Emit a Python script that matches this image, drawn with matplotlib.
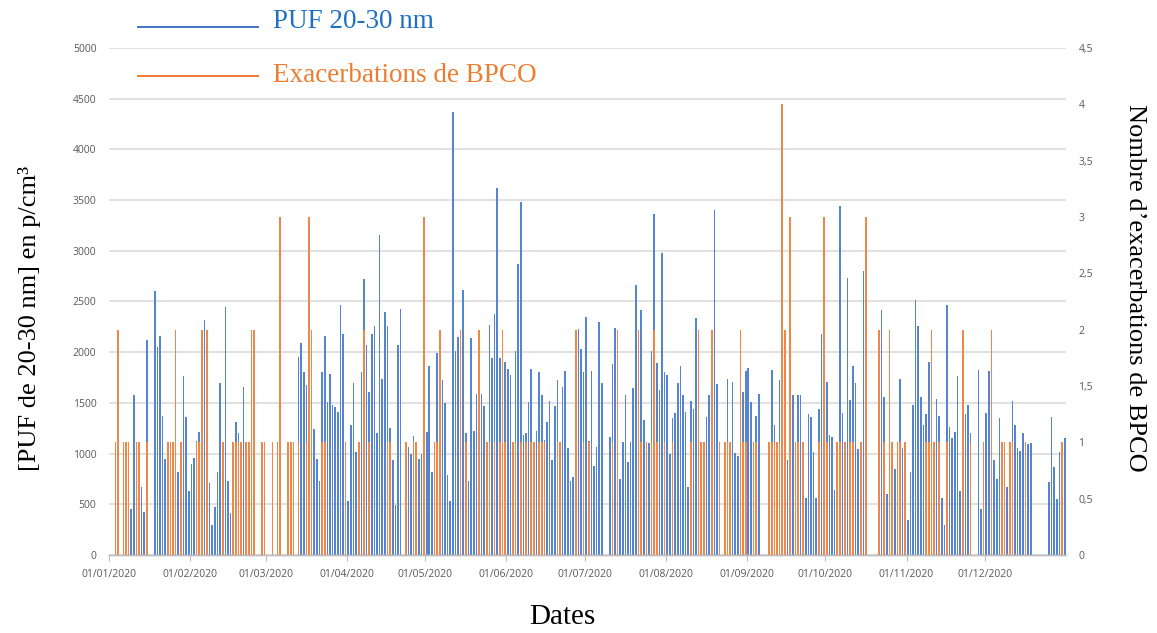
import matplotlib
matplotlib.use('Agg')
import matplotlib.pyplot as plt
from matplotlib.lines import Line2D
import numpy as np

# month ticks (day index of the 1st of each month, 2020 is a leap year)
month_starts = [0, 31, 60, 91, 121, 152, 182, 213, 244, 274, 305, 335]
month_labels = ['01/01/2020', '01/02/2020', '01/03/2020', '01/04/2020',
                '01/05/2020', '01/06/2020', '01/07/2020', '01/08/2020',
                '01/09/2020', '01/10/2020', '01/11/2020', '01/12/2020']

# PUF 20-30 nm (p/cm3), one value per day (0 = no / hidden bar)
puf = [
    # janvier
    0, 0, 0, 0, 0, 0, 0, 0, 450, 1576, 0, 0, 668, 428, 2122, 0, 0, 2602, 2056, 2161, 1375, 947, 0, 0, 0, 0, 816, 0, 1767, 1362, 632,
    # fevrier
    895, 960, 1125, 1217, 0, 2313, 0, 707, 296, 477, 816, 1694, 0, 2444, 734, 411, 0, 1309, 1200, 0, 1655, 0, 0, 0, 0, 0, 0, 0, 0,
    # mars
    0, 0, 0, 0, 0, 0, 0, 0, 0, 0, 0, 0, 1948, 2089, 1800, 1678, 0, 0, 1240, 947, 734, 1800, 2161, 1507, 1786, 1484, 1464, 1415, 2468, 2178, 0,
    # avril
    536, 1283, 1694, 1013, 0, 1800, 2721, 2069, 1612, 2178, 2254, 1200, 3152, 1734, 2392, 2254, 1250, 938, 494, 2069, 2428, 0, 0, 1069, 993, 1174, 1100, 947, 993, 0,
    # mai
    1217, 1859, 816, 0, 1990, 0, 1724, 1497, 790, 536, 4366, 2013, 2148, 0, 2615, 1200, 734, 2138, 1227, 1589, 0, 1589, 1470, 0, 2270, 1938, 2379, 3616, 1938, 0, 1908,
    # juin
    1832, 1776, 1109, 2013, 2872, 3484, 1184, 1200, 1507, 1832, 0, 1227, 1800, 1576, 1135, 1309, 1523, 938, 1470, 1721, 0, 1661, 1816, 1053, 734, 773, 0, 2231, 2033, 1800,
    # juillet
    2352, 1125, 1816, 882, 1069, 2296, 1694, 0, 0, 1168, 1882, 2234, 0, 750, 1112, 1579, 921, 1112, 1645, 2658, 0, 2418, 1332, 0, 1109, 2013, 3365, 1892, 1628, 2977, 1800,
    # aout
    1776, 993, 1349, 1405, 1694, 1865, 1576, 1411, 668, 1523, 1441, 2336, 0, 0, 1050, 1365, 1576, 0, 3405, 1684, 0, 0, 0, 1737, 0, 1708, 1003, 977, 0, 1605, 1816,
    # septembre
    1842, 1507, 0, 1375, 1589, 0, 0, 0, 0, 1826, 1283, 0, 1721, 0, 0, 938, 0, 1576, 0, 1576, 1576, 0, 559, 1392, 1359, 1013, 559, 1441, 2178, 0,
    # octobre
    1708, 1184, 1161, 641, 0, 3441, 1405, 0, 2734, 1533, 1865, 1694, 1043, 1109, 2803, 0, 0, 0, 0, 0, 0, 2418, 1563, 602, 0, 0, 846, 0, 1734, 1053, 0,
    # novembre
    345, 816, 1481, 2510, 2254, 1563, 1283, 1392, 1908, 0, 0, 1536, 1375, 566, 296, 2468, 1267, 1151, 1217, 1767, 632, 0, 1392, 1481, 1200, 0, 0, 1826, 450, 0,
    # decembre
    1398, 1816, 0, 938, 750, 1349, 0, 0, 668, 0, 1523, 1283, 1053, 1030, 1200, 0, 1092, 1109, 0, 0, 0, 0, 0, 0, 724, 1365, 872, 549, 1020, 1109, 1151,
]

# nombre d'exacerbations de BPCO par jour
bpco = [
    0, 0, 1, 2, 0, 1, 1, 1, 0, 0, 1, 1, 0, 0, 1, 0, 0, 0, 0, 0, 0, 0, 1, 1, 1, 2, 0, 1, 0, 0, 0,
    0, 0, 1, 1, 2, 0, 2, 0, 0, 0, 0, 0, 1, 0, 0, 0, 1, 1, 1, 1, 0, 1, 1, 2, 2, 0, 0, 1, 1,
    0, 0, 1, 0, 1, 3, 0, 0, 1, 1, 1, 0, 1, 0, 0, 1, 3, 2, 0, 0, 0, 1, 1, 0, 0, 0, 0, 0, 0, 0, 1,
    0, 0, 0, 0, 1, 0, 2, 0, 1, 0, 0, 0, 0, 0, 0, 1, 1, 0, 0, 0, 0, 0, 1, 0, 0, 1, 1, 0, 0, 3,
    0, 0, 0, 1, 1, 2, 0, 0, 0, 0, 0, 0, 0, 2, 0, 1, 0, 0, 0, 0, 2, 0, 0, 1, 1, 0, 1, 0, 1, 2, 1,
    0, 0, 1, 1, 0, 1, 0, 1, 0, 1, 1, 0, 1, 1, 1, 0, 0, 0, 0, 1, 1, 0, 0, 0, 0, 0, 2, 0, 0, 1,
    0, 1, 0, 0, 0, 0, 0, 0, 0, 0, 1, 0, 2, 0, 0, 0, 0, 0, 0, 0, 2, 1, 0, 1, 0, 1, 2, 1, 0, 0, 1,
    0, 0, 1, 0, 0, 0, 0, 0, 0, 1, 0, 0, 2, 1, 1, 0, 0, 2, 0, 0, 1, 0, 1, 1, 1, 0, 0, 0, 2, 1, 1,
    0, 0, 1, 1, 0, 0, 0, 0, 1, 1, 1, 1, 1, 4, 2, 0, 3, 0, 1, 1, 0, 1, 0, 0, 0, 0, 0, 1, 0, 3,
    1, 0, 0, 0, 1, 1, 0, 1, 0, 1, 1, 0, 0, 1, 0, 3, 0, 0, 0, 0, 2, 0, 1, 0, 2, 1, 0, 1, 1, 0, 1,
    0, 0, 0, 0, 0, 0, 0, 1, 1, 2, 1, 0, 1, 0, 0, 1, 0, 0, 0, 0, 0, 2, 0, 0, 1, 0, 0, 0, 0, 1,
    0, 0, 2, 0, 0, 0, 1, 1, 0, 1, 1, 0, 0, 0, 0, 1, 0, 0, 0, 0, 0, 0, 0, 0, 0, 0, 0, 0, 0, 1, 0,
]

blue = '#4472C4'
blue_bar = '#5584D2'
orange = '#ED7D31'
orange_bar = '#F0874A'
grey = '#595959'
tick_font = 'Open Sans'
serif = 'Liberation Serif'

days = np.arange(len(puf)) + 0.5

fig = plt.figure(figsize=(11.57, 6.33), dpi=100)
ax = fig.add_axes([109 / 1157, 1 - 555 / 633, (1066 - 109) / 1157, (555 - 48) / 633])
ax2 = ax.twinx()

ax.bar(days, puf, width=0.62, color=blue_bar, linewidth=0)
ax2.bar(days, bpco, width=0.62, color=orange_bar, linewidth=0)

ax.set_xlim(0, 366)
ax.set_ylim(0, 5000)
ax2.set_ylim(0, 4.5)

ax.set_yticks(np.arange(0, 5001, 500))
ax.set_yticklabels([str(v) for v in range(0, 5001, 500)])
r_ticks = np.arange(0, 4.51, 0.5)
ax2.set_yticks(r_ticks)
ax2.set_yticklabels([('%g' % v).replace('.', ',') for v in r_ticks])

ax.set_xticks(month_starts)
ax.set_xticklabels(month_labels)

ax.set_axisbelow(True)
ax.grid(axis='y', color='#D9D9D9', linewidth=1.1)
for a in (ax, ax2):
    for s in ['top', 'left', 'right']:
        a.spines[s].set_visible(False)
    a.spines['bottom'].set_color('#BFBFBF')
    a.spines['bottom'].set_linewidth(1.0)

ax.tick_params(axis='y', length=0, pad=9, labelsize=7.5, labelcolor=grey)
ax2.tick_params(axis='y', length=0, pad=9, labelsize=7.5, labelcolor=grey)
ax.tick_params(axis='x', length=4, color='#BFBFBF', pad=6, labelsize=7.5, labelcolor=grey)
for lab in ax.get_xticklabels() + ax.get_yticklabels() + ax2.get_yticklabels():
    lab.set_fontfamily(tick_font)

# axis titles
fig.text(30 / 1157, 1 - 318 / 633, '[PUF de 20-30 nm] en p/cm³', rotation=90,
         ha='center', va='center', fontsize=19, family=serif)
fig.text(1135 / 1157, 1 - 288 / 633, 'Nombre d’exacerbations de BPCO', rotation=270,
         ha='center', va='center', fontsize=19, family=serif)
fig.text(562 / 1157, 1 - 617 / 633, 'Dates', ha='center', va='center',
         fontsize=21, family=serif)

# legend drawn as in the original (lines + coloured text)
fig.add_artist(Line2D([138 / 1157, 258 / 1157], [1 - 27 / 633, 1 - 27 / 633],
                      color=blue, linewidth=1.4))
fig.text(273 / 1157, 1 - 22 / 633, 'PUF 20-30 nm', ha='left', va='center',
         fontsize=19.5, family=serif, color='#1F70C1')
fig.add_artist(Line2D([138 / 1157, 258 / 1157], [1 - 76 / 633, 1 - 76 / 633],
                      color=orange, linewidth=1.4))
fig.text(273 / 1157, 1 - 75 / 633, 'Exacerbations de BPCO', ha='left', va='center',
         fontsize=19.5, family=serif, color=orange)

fig.savefig('out.png', dpi=100)
